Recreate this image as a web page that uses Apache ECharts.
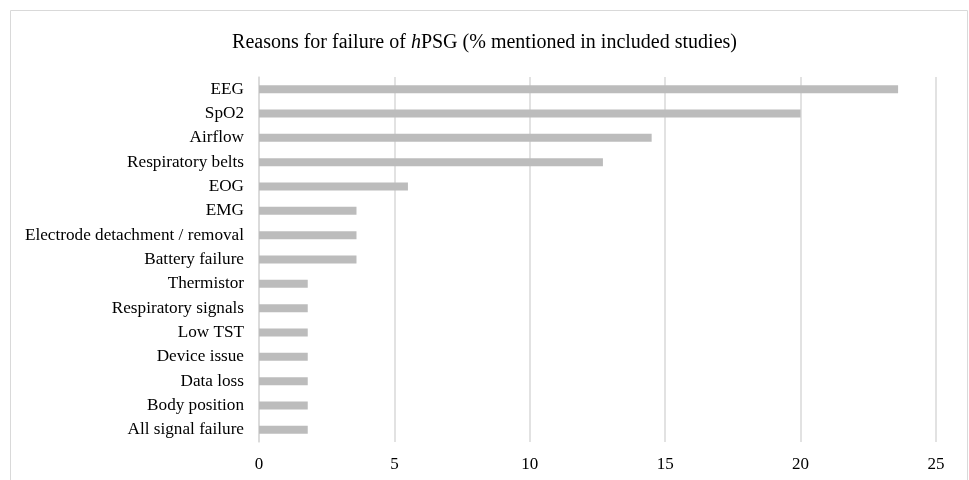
<!DOCTYPE html>
<html>
<head>
<meta charset="utf-8">
<script src="https://cdn.jsdelivr.net/npm/echarts@6/dist/echarts.min.js"></script>
<style>
html,body{margin:0;padding:0;background:#fff;}
#c{width:969px;height:480px;}
</style>
</head>
<body>
<div id="c"></div>
<script>
const categories = ["EEG","SpO2","Airflow","Respiratory belts","EOG","EMG","Electrode detachment / removal","Battery failure","Thermistor","Respiratory signals","Low TST","Device issue","Data loss","Body position","All signal failure"];
const values = [23.6,20.0,14.5,12.7,5.5,3.6,3.6,3.6,1.8,1.8,1.8,1.8,1.8,1.8,1.8];
const xTicks = [0,5,10,15,20,25];

const chart = echarts.init(document.getElementById('c'));
const font = '"Liberation Serif","Times New Roman",serif';
chart.setOption({
  animation:false,
  textStyle:{fontFamily:font},
  graphic:[{type:'rect',shape:{x:10.5,y:10.5,width:957,height:500},style:{fill:'none',stroke:'#d9d9d9',lineWidth:1},silent:true}],
  title:{
    text:'{n|Reasons for failure of }{i|h}{n|PSG (% mentioned in included studies)}',
    left:'center', top:28,
    textStyle:{fontWeight:'normal',rich:{
      n:{fontFamily:font,fontSize:20,fontWeight:'normal',color:'#000'},
      i:{fontFamily:font,fontSize:20,fontWeight:'normal',fontStyle:'italic',color:'#000'}
    }}
  },
  grid:{left:259,right:33,top:77,bottom:38,containLabel:false},
  xAxis:{
    type:'value',min:0,max:25,interval:5,
    axisLine:{show:false},axisTick:{show:false},
    axisLabel:{color:'#000',fontFamily:font,fontSize:17,margin:14,
      formatter:v=>xTicks.includes(v)?String(v):''},
    splitLine:{show:true,lineStyle:{color:'#d9d9d9',width:1.5}}
  },
  yAxis:{
    type:'category',data:categories,inverse:true,
    axisLine:{show:true,lineStyle:{color:'#d9d9d9',width:1.5}},
    axisTick:{show:false},
    axisLabel:{color:'#000',fontFamily:font,fontSize:17.2,margin:15}
  },
  series:[{type:'bar',data:values,barWidth:8,itemStyle:{color:'#bcbcbc'},silent:true}]
});
</script>
</body>
</html>
